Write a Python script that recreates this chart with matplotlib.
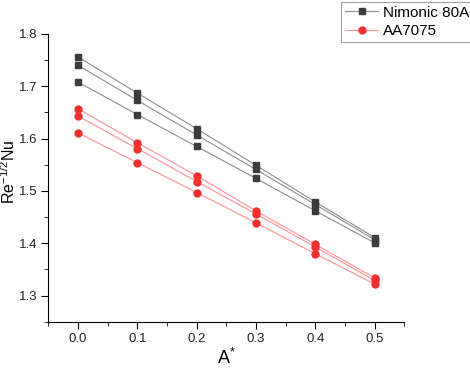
import matplotlib.pyplot as plt
import numpy as np

plt.rcParams['font.family'] = ['Liberation Sans', 'DejaVu Sans']
plt.rcParams['mathtext.fontset'] = 'custom'
plt.rcParams['mathtext.rm'] = 'Liberation Sans'
plt.rcParams['mathtext.it'] = 'Liberation Sans'

# values
a_star = [0.0, 0.1, 0.2, 0.3, 0.4, 0.5]

nimonic = [
    [1.756, 1.687, 1.619, 1.549, 1.479, 1.411],
    [1.740, 1.673, 1.607, 1.541, 1.474, 1.407],
    [1.708, 1.646, 1.585, 1.524, 1.462, 1.401],
]
aa7075 = [
    [1.657, 1.592, 1.529, 1.462, 1.398, 1.334],
    [1.643, 1.581, 1.518, 1.456, 1.393, 1.329],
    [1.611, 1.554, 1.497, 1.439, 1.380, 1.322],
]
names = ["Nimonic 80A", "AA7075"]

fig = plt.figure(figsize=(4.70, 3.69), dpi=100)
ax = fig.add_axes([0.103, 0.128, 0.757, 0.78])

handles = []
for i, ys in enumerate(nimonic):
    h, = ax.plot(a_star, ys, color="#8c8c8c", lw=0.8, marker="s", ms=5,
                 mfc="#3c3c3c", mec="#3c3c3c")
    if i == 0:
        handles.append(h)
for i, ys in enumerate(aa7075):
    h, = ax.plot(a_star, ys, color="#ff9090", lw=0.8, marker="o", ms=5,
                 mfc="#f03030", mec="#f03030")
    if i == 0:
        handles.append(h)

ax.set_xlim(-0.05, 0.55)
ax.set_ylim(1.25, 1.8)
ax.set_xticks(np.arange(0, 0.51, 0.1))
ax.set_xticks(np.arange(-0.05, 0.56, 0.05), minor=True)
ax.set_yticks(np.arange(1.3, 1.81, 0.1))
ax.set_yticks(np.arange(1.25, 1.81, 0.05), minor=True)
ax.xaxis.set_major_formatter(plt.FormatStrFormatter("%.1f"))
ax.yaxis.set_major_formatter(plt.FormatStrFormatter("%.1f"))
ax.tick_params(which="both", direction="out", labelsize=9.5, color="black",
               labelcolor="#222222")
ax.tick_params(which="major", length=5, pad=3)
ax.tick_params(which="minor", length=3)
ax.spines["top"].set_visible(False)
ax.spines["right"].set_visible(False)

ax.set_xlabel("A$^{*}$", fontsize=13)
ax.set_ylabel("Re$^{-1/2}$Nu", fontsize=11.5)
ax.xaxis.set_label_coords(0.5, -0.092)
ax.yaxis.set_label_coords(-0.086, 0.522)

leg = fig.legend(handles, names, loc="upper left", bbox_to_anchor=(0.7255, 0.995),
                 fontsize=11, frameon=True, fancybox=False, edgecolor="#888888",
                 handlelength=2.2, borderpad=0.25, labelspacing=0.3, handletextpad=0.3,
                 borderaxespad=0.0)
leg.get_frame().set_linewidth(0.8)

fig.savefig("out.png", dpi=100)
